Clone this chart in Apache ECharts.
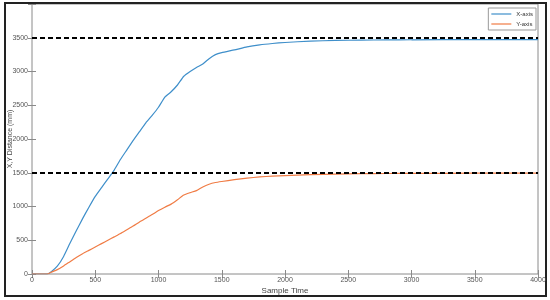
<!DOCTYPE html>
<html>
<head>
<meta charset="utf-8">
<script src="https://cdn.jsdelivr.net/npm/echarts@6/dist/echarts.min.js"></script>
<style>
  html, body { margin: 0; padding: 0; background: #fff; }
  #main { width: 550px; height: 300px; }
</style>
</head>
<body>
<div id="main"></div>
<script>
// sample times and the two measured distances (mm)
var sampleTime = [0, 100, 120, 150, 200, 250, 300, 350, 400, 450, 500, 550, 600, 650, 700, 750, 800, 850, 900, 950,
  1000, 1050, 1100, 1150, 1200, 1250, 1300, 1350, 1400, 1450, 1500, 1600, 1700, 1800, 1900, 2000,
  2200, 2400, 2600, 2800, 3000, 3500, 4000];
var xDist = [0, 0, 0, 30, 115, 260, 455, 640, 820, 990, 1150, 1280, 1410, 1540, 1700, 1840, 1980, 2110, 2240, 2350,
  2470, 2620, 2700, 2800, 2930, 3000, 3060, 3110, 3190, 3250, 3280, 3320, 3365, 3395, 3415, 3430,
  3450, 3460, 3465, 3468, 3470, 3472, 3472];
var yDist = [0, 0, 0, 25, 65, 120, 183, 245, 300, 350, 400, 450, 500, 550, 600, 655, 710, 770, 825, 880,
  940, 990, 1035, 1100, 1170, 1205, 1235, 1290, 1330, 1355, 1370, 1397, 1420, 1438, 1450, 1458,
  1472, 1480, 1486, 1489, 1491, 1493, 1494];
var refLevels = [3500, 1500];

function pairs(t, v) {
  var out = [];
  for (let i = 0; i < t.length; i++) {
    out.push([t[i], v[i]]);
  }
  return out;
}

var myChart = echarts.init(document.getElementById('main'));
var font = 'Liberation Sans';
var tickStyle = { color: '#555', fontSize: 7, fontFamily: font };
var tickLine = { show: true, inside: true, length: 4, lineStyle: { color: '#8a8a8a' } };

var option = {
  animation: false,
  textStyle: { fontFamily: font },
  grid: {
    left: 32, right: 12, top: 4, bottom: 26,
    outerBoundsMode: 'none', containLabel: false,
    show: true, borderColor: '#8a8a8a', borderWidth: 1
  },
  graphic: [{
    type: 'rect',
    shape: { x: 5, y: 3, width: 541, height: 293 },
    style: { fill: 'none', stroke: '#222', lineWidth: 2 },
    silent: true
  }],
  legend: {
    right: 14, top: 8,
    orient: 'vertical',
    icon: 'rect',
    itemWidth: 20, itemHeight: 1.2, itemGap: 4,
    padding: [3, 3, 3, 3],
    borderColor: '#999', borderWidth: 1, backgroundColor: '#fff',
    textStyle: { fontSize: 6, color: '#333', fontFamily: font },
    data: ['X-axis', 'Y-axis']
  },
  xAxis: [{
    type: 'value', min: 0, max: 4000, interval: 500,
    name: 'Sample Time', nameLocation: 'middle', nameGap: 13, nameMoveOverlap: false,
    nameTextStyle: { fontSize: 8, color: '#444', fontFamily: font },
    axisLine: { show: false },
    axisTick: tickLine,
    axisLabel: Object.assign({ margin: 3, formatter: function (v) { return String(v); } }, tickStyle),
    splitLine: { show: false }
  }, {
    type: 'value', min: 0, max: 4000, interval: 500, position: 'top',
    axisLine: { show: false },
    axisTick: tickLine,
    axisLabel: { show: false },
    splitLine: { show: false }
  }],
  yAxis: [{
    type: 'value', min: 0, max: 4000, interval: 500,
    name: 'X,Y Distance (mm)', nameLocation: 'middle', nameGap: 18, nameMoveOverlap: false,
    nameTextStyle: { fontSize: 7, color: '#444', fontFamily: font },
    axisLine: { show: false },
    axisTick: tickLine,
    axisLabel: Object.assign({
      margin: 4,
      formatter: function (v) { return v === 4000 ? '' : String(v); }
    }, tickStyle),
    splitLine: { show: false }
  }, {
    type: 'value', min: 0, max: 4000, interval: 500, position: 'right',
    axisLine: { show: false },
    axisTick: tickLine,
    axisLabel: { show: false },
    splitLine: { show: false }
  }],
  series: [{
    name: 'X-axis', type: 'line', symbol: 'none', smooth: 0.15,
    color: '#3f8fca',
    lineStyle: { width: 1.2 },
    data: pairs(sampleTime, xDist),
    markLine: {
      silent: true, symbol: 'none', label: { show: false },
      lineStyle: { color: '#000', type: [5, 3], width: 2 },
      data: refLevels.map(function (v) { return { yAxis: v }; })
    },
    z: 2
  }, {
    name: 'Y-axis', type: 'line', symbol: 'none', smooth: 0.15,
    color: '#f07c45',
    lineStyle: { width: 1.2 },
    data: pairs(sampleTime, yDist),
    z: 2
  }]
};
myChart.setOption(option);
</script>
</body>
</html>
